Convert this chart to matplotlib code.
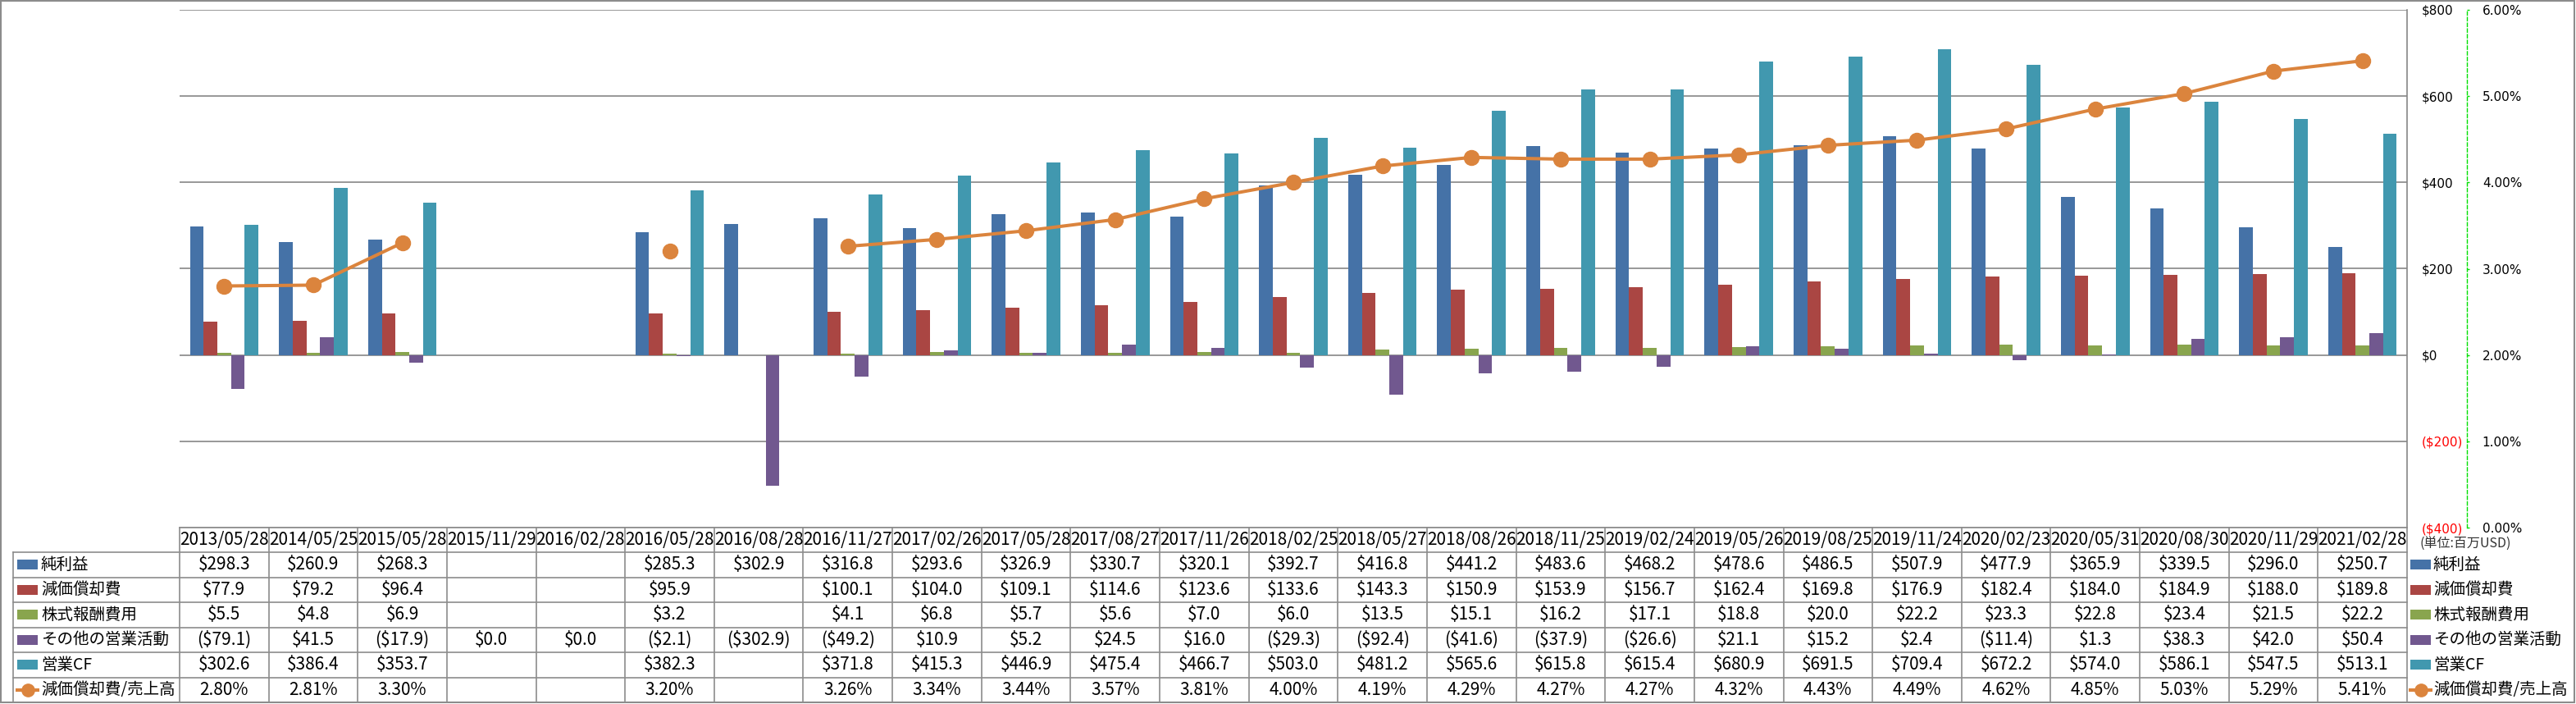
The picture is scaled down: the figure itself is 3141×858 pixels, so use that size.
import numpy as np
import matplotlib
matplotlib.use("Agg")
import matplotlib.pyplot as plt
from matplotlib.patches import Rectangle
from matplotlib.ticker import FuncFormatter

# --- données (millions USD) ---
dates = ['2013/05/28', '2014/05/25', '2015/05/28', '2015/11/29', '2016/02/28',
         '2016/05/28', '2016/08/28', '2016/11/27', '2017/02/26', '2017/05/28',
         '2017/08/27', '2017/11/26', '2018/02/25', '2018/05/27', '2018/08/26',
         '2018/11/25', '2019/02/24', '2019/05/26', '2019/08/25', '2019/11/24',
         '2020/02/23', '2020/05/31', '2020/08/30', '2020/11/29', '2021/02/28']

net_income = [298.3, 260.9, 268.3, None, None, 285.3, 302.9, 316.8, 293.6, 326.9,
              330.7, 320.1, 392.7, 416.8, 441.2, 483.6, 468.2, 478.6, 486.5, 507.9,
              477.9, 365.9, 339.5, 296.0, 250.7]
depreciation = [77.9, 79.2, 96.4, None, None, 95.9, None, 100.1, 104.0, 109.1,
                114.6, 123.6, 133.6, 143.3, 150.9, 153.9, 156.7, 162.4, 169.8, 176.9,
                182.4, 184.0, 184.9, 188.0, 189.8]
stock_comp = [5.5, 4.8, 6.9, None, None, 3.2, None, 4.1, 6.8, 5.7,
              5.6, 7.0, 6.0, 13.5, 15.1, 16.2, 17.1, 18.8, 20.0, 22.2,
              23.3, 22.8, 23.4, 21.5, 22.2]
other_ops = [-79.1, 41.5, -17.9, 0.0, 0.0, -2.1, -302.9, -49.2, 10.9, 5.2,
             24.5, 16.0, -29.3, -92.4, -41.6, -37.9, -26.6, 21.1, 15.2, 2.4,
             -11.4, 1.3, 38.3, 42.0, 50.4]
op_cf = [302.6, 386.4, 353.7, None, None, 382.3, None, 371.8, 415.3, 446.9,
         475.4, 466.7, 503.0, 481.2, 565.6, 615.8, 615.4, 680.9, 691.5, 709.4,
         672.2, 574.0, 586.1, 547.5, 513.1]
dep_ratio = [2.80, 2.81, 3.30, None, None, 3.20, None, 3.26, 3.34, 3.44,
             3.57, 3.81, 4.00, 4.19, 4.29, 4.27, 4.27, 4.32, 4.43, 4.49,
             4.62, 4.85, 5.03, 5.29, 5.41]

bar_names = ['純利益', '減価償却費', '株式報酬費用', 'その他の営業活動', '営業CF']
line_name = '減価償却費/売上高'
bar_colors = ['#4572A7', '#AA4643', '#89A54E', '#71588F', '#4198AF']
line_color = '#DB843D'
bar_series = [net_income, depreciation, stock_comp, other_ops, op_cf]

# polices : le latin de Noto Sans CJK est étroit, proche de l'original
CJK = ['Noto Sans CJK JP', 'DejaVu Sans']


def arr(v):
    return np.array([np.nan if x is None else x for x in v], dtype=float)


def money(v):
    if v is None:
        return ''
    return '(\\$%.1f)' % -v if v < 0 else '\\$%.1f' % v


W, H = 3141, 858
PL, PR, PT, PB = 219, 2935, 12, 643
grid_c = '#868686'

fig = plt.figure(figsize=(W / 100, H / 100), dpi=100)
ax = fig.add_axes([PL / W, 1 - PB / H, (PR - PL) / W, (PB - PT) / H])
ax2 = ax.twinx()

n = len(dates)
x = np.arange(n)
bw = 1 / 6.5
for i, (vals, c) in enumerate(zip(bar_series, bar_colors)):
    v = arr(vals)
    m = ~np.isnan(v)
    ax.bar(x[m] + (i - 2) * bw, v[m], width=bw, color=c, linewidth=0, zorder=2)

ax.set_xlim(-0.5, n - 0.5)
ax.set_ylim(-400, 800)
ax.set_yticks(np.arange(-400, 801, 200))
ax.yaxis.set_major_formatter(FuncFormatter(
    lambda v, p: '(\\$%d)' % -v if v < 0 else '\\$%d' % v))
ax.yaxis.tick_right()
ax.tick_params(axis='y', left=False, right=False, labelleft=False, labelright=True,
               length=0, pad=13, labelsize=11)
ax.set_xticks([])
ax.yaxis.grid(True, color=grid_c, linewidth=1.2)
ax.set_axisbelow(True)
for s in ['top', 'left', 'bottom']:
    ax.spines[s].set_visible(False)
ax.spines['right'].set_color(grid_c)
ax.spines['right'].set_linewidth(1.2)

ax2.plot(x, arr(dep_ratio), color=line_color, linewidth=2.9, marker='o',
         markersize=13, zorder=5)
ax2.set_ylim(0, 6)
ax2.set_yticks(np.arange(0, 7, 1))
ax2.yaxis.set_major_formatter(FuncFormatter(lambda v, p: '%.2f%%' % v))
for s in ['top', 'left', 'bottom']:
    ax2.spines[s].set_visible(False)
ax2.spines['right'].set_position(('outward', 52.6))
ax2.spines['right'].set_color('#00E000')
ax2.spines['right'].set_linestyle((0, (3, 2)))
ax2.spines['right'].set_linewidth(1)
ax2.tick_params(axis='y', colors='#00E000', labelcolor='black', length=2.5,
                width=1, pad=11, labelsize=11)

fig.canvas.draw()
for t, v in zip(ax.yaxis.get_major_ticks(), ax.get_yticks()):
    if v < 0:
        t.label2.set_color('red')

# --- tableau de données ---
tb = fig.add_axes([0, 0, 1, 1])
tb.set_xlim(0, W)
tb.set_ylim(H, 0)
tb.axis('off')

T0, T1, TB = 643, 673, 856
rh = (TB - T1) / 6
colw = (PR - PL) / n
LX = 16
tc = '#8C8C8C'

tb.plot([PL, PR], [T0, T0], color=tc, lw=1.2)
for r in range(7):
    y = T1 + r * rh
    tb.plot([LX, PR], [y, y], color=tc, lw=1.2)
for k in range(n + 1):
    xx = PL + k * colw
    tb.plot([xx, xx], [T0, TB], color=tc, lw=1.2)
tb.plot([LX, LX], [T1, TB], color=tc, lw=1.2)

for k, d in enumerate(dates):
    tb.text(PL + (k + 0.5) * colw, (T0 + T1) / 2, d, ha='center', va='center',
            fontsize=15, family=CJK)

rows = [[money(v) for v in s] for s in bar_series]
rows.append(['' if v is None else '%.2f%%' % v for v in dep_ratio])
labels = bar_names + [line_name]
colors = bar_colors + [line_color]


def key(xk, yc, i):
    if i < 5:
        tb.add_patch(Rectangle((xk, yc - 6), 25, 12, color=colors[i], lw=0))
    else:
        tb.plot([xk - 2, xk + 27], [yc, yc], color=line_color, lw=3,
                solid_capstyle='butt')
        tb.plot([xk + 12.5], [yc], color=line_color, marker='o', markersize=11)


for r in range(6):
    yc = T1 + (r + 0.5) * rh
    key(21, yc, r)
    tb.text(50, yc, labels[r], ha='left', va='center', fontsize=14, family=CJK)
    for k in range(n):
        tb.text(PL + (k + 0.5) * colw, yc, rows[r][k], ha='center', va='center',
                fontsize=15, family=CJK)
    # légende à droite
    key(2939, yc, r)
    tb.text(2967, yc, labels[r], ha='left', va='center', fontsize=14, family=CJK)

tb.text(2950, 663, '(単位:百万USD)', ha='left', va='center', fontsize=11.5,
        family=CJK, color='#333333')

tb.add_patch(Rectangle((1, 1), W - 3, H - 3, fill=False, ec='#8C8C8C', lw=1.5))

fig.savefig('out.png', dpi=100)
